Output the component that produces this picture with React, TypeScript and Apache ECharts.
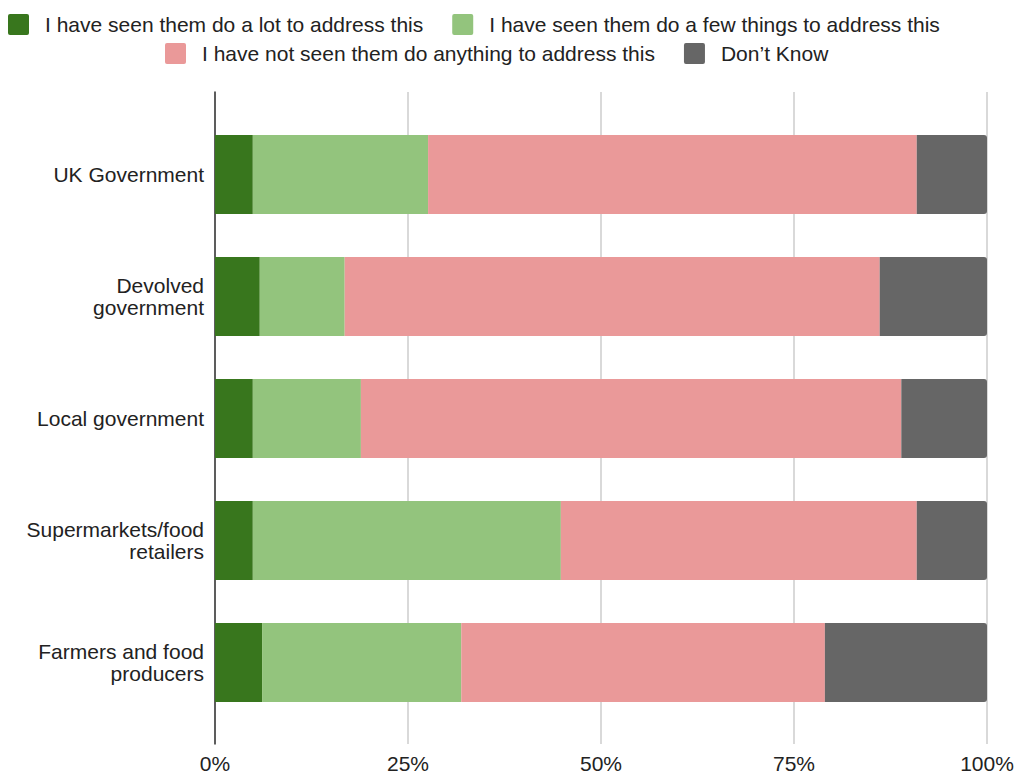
import React, { useEffect, useRef } from "react";
import * as echarts from "echarts";

const categories = [
  "UK Government",
  "Devolved\ngovernment",
  "Local government",
  "Supermarkets/food\nretailers",
  "Farmers and food\nproducers",
];
const seriesNames = [
  "I have seen them do a lot to address this",
  "I have seen them do a few things to address this",
  "I have not seen them do anything to address this",
  "Don\u2019t Know",
];
const doALot = [4.9, 5.8, 4.9, 4.9, 6.1];
const doAFew = [22.7, 11.0, 14.0, 39.9, 25.8];
const nothing = [63.3, 69.3, 70.0, 46.1, 47.1];
const dontKnow = [9.1, 13.9, 11.1, 9.1, 21.0];
const xTicks = [0, 25, 50, 75, 100];
const colors = ["#38761d", "#93c47d", "#ea9999", "#666666"];

const FONT = "'Liberation Sans', Arial, sans-serif";
const ICON =
  "path://M2,0H19A2,2 0 0 1 21,2V19A2,2 0 0 1 19,21H2A2,2 0 0 1 0,19V2A2,2 0 0 1 2,0Z";

export default function App() {
  const ref = useRef<HTMLDivElement>(null);
  useEffect(() => {
    if (!ref.current) return;
    const chart = echarts.init(ref.current, null, { renderer: "svg" });
    const values = [doALot, doAFew, nothing, dontKnow];
    const legendCommon = {
      orient: "horizontal",
      padding: 0,
      itemWidth: 21,
      itemHeight: 21,
      itemGap: 29,
      icon: ICON,
      textStyle: { fontSize: 21, color: "#222", fontFamily: FONT, padding: [0, 0, 0, 11] },
      selectedMode: false,
    };
    chart.setOption({
      animation: false,
      textStyle: { fontFamily: FONT },
      legend: [
        { ...legendCommon, data: [seriesNames[0], seriesNames[1]], left: 8, top: 14 },
        { ...legendCommon, data: [seriesNames[2], seriesNames[3]], left: 165, top: 43 },
      ],
      grid: [
        { left: 215, right: 30, top: 92, bottom: 28 },
        { left: 215, right: 30, top: 113.5, bottom: 50.5 },
      ],
      xAxis: [
        {
          type: "value",
          gridIndex: 0,
          min: xTicks[0],
          max: xTicks[xTicks.length - 1],
          interval: 25,
          axisLine: { show: false },
          axisTick: { show: false },
          axisLabel: {
            formatter: (v: number) => (xTicks.includes(v) ? v + "%" : ""),
            fontSize: 21,
            color: "#222",
            fontFamily: FONT,
            margin: 9,
          },
          splitLine: { show: true, lineStyle: { color: "#cccccc", width: 1.5 } },
        },
        {
          type: "value",
          gridIndex: 1,
          min: 0,
          max: 100,
          show: false,
        },
      ],
      yAxis: [
        {
          type: "value",
          gridIndex: 0,
          min: 0,
          max: 1,
          axisLine: { show: true, lineStyle: { color: "#333333", width: 1.5 } },
          axisTick: { show: false },
          axisLabel: { show: false },
          splitLine: { show: false },
        },
        {
          type: "category",
          gridIndex: 1,
          data: categories,
          inverse: true,
          axisLine: { show: false },
          axisTick: { show: false },
          axisLabel: {
            fontSize: 21,
            color: "#222",
            fontFamily: FONT,
            margin: 11,
            lineHeight: 22,
            align: "right",
          },
        },
      ],
      series: seriesNames.map((name, i) => ({
        name,
        type: "bar",
        stack: "total",
        xAxisIndex: 1,
        yAxisIndex: 1,
        barWidth: 79,
        data: values[i],
        itemStyle: {
          color: colors[i],
          borderRadius: i === 3 ? [0, 3, 3, 0] : 0,
        },
      })),
    });
    return () => chart.dispose();
  }, []);
  return (
    <div
      ref={ref}
      style={{ position: "fixed", left: 0, top: 0, width: 1017, height: 774, background: "#fff" }}
    />
  );
}
